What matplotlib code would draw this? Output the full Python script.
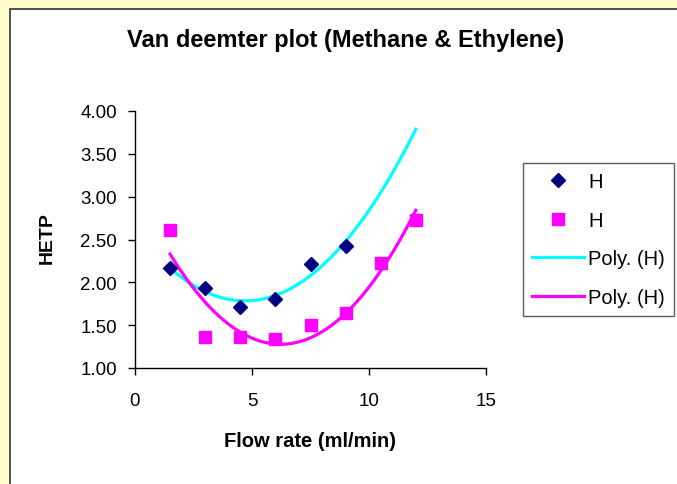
import numpy as np
import matplotlib
matplotlib.use("Agg")
import matplotlib.pyplot as plt
from matplotlib.patches import Rectangle

plt.rcParams['font.family'] = ['Liberation Sans', 'DejaVu Sans']

# data
flow_methane = [1.5, 3.0, 4.5, 6.0, 7.5, 9.0]
hetp_methane = [2.17, 1.93, 1.71, 1.81, 2.21, 2.42]
flow_ethylene = [1.5, 3.0, 4.5, 6.0, 7.5, 9.0, 10.5, 12.0]
hetp_ethylene = [2.61, 1.36, 1.36, 1.34, 1.50, 1.64, 2.22, 2.73]
x_ticks = [0, 5, 10, 15]
y_ticks = [1.0, 1.5, 2.0, 2.5, 3.0, 3.5, 4.0]
trend_end = 12.0
poly_order = 2

W, H = 677, 485
fig = plt.figure(figsize=(W / 100, H / 100), dpi=100)
fig.patch.set_facecolor('#FFFFCC')
# white chart area with dark border, running off the right and bottom edges
fig.patches.append(Rectangle((9.5 / W, -0.1), 1.2, 1.1 - 9.5 / H,
                             transform=fig.transFigure, facecolor='white',
                             edgecolor='#333333', linewidth=1.2, zorder=-1))

ax = fig.add_axes([135 / W, 1 - 369 / H, 351 / W, 257 / H])
ax.set_facecolor('none')

# polynomial trendlines (Excel "Poly.")
xs = np.linspace(flow_methane[0], trend_end, 200)
c1 = np.polyfit(flow_methane, hetp_methane, poly_order)
ax.plot(xs, np.polyval(c1, xs), color='#00FFFF', lw=2.3, label='Poly. (H)', zorder=2)
xs2 = np.linspace(flow_ethylene[0], trend_end, 200)
c2 = np.polyfit(flow_ethylene, hetp_ethylene, poly_order)
ax.plot(xs2, np.polyval(c2, xs2), color='#FF00FF', lw=2.3, label='Poly. (H)', zorder=2)

ax.plot(flow_methane, hetp_methane, 'D', color='#000080', ms=7.5, label='H', zorder=3)
ax.plot(flow_ethylene, hetp_ethylene, 's', color='#FF00FF', ms=8.5, label='H', zorder=3)

ax.set_xlim(0, 15)
ax.set_ylim(1, 4)
ax.set_xticks(x_ticks)
ax.set_yticks(y_ticks)
ax.set_yticklabels(['%.2f' % v for v in y_ticks])
ax.tick_params(direction='out', length=5, width=1, labelsize=13.5)
ax.tick_params(axis='x', pad=12)
ax.tick_params(axis='y', pad=8)
for s in ['top', 'right']:
    ax.spines[s].set_visible(False)
for s in ['left', 'bottom']:
    ax.spines[s].set_linewidth(1)

fig.text(310 / W, 1 - 442 / H, 'Flow rate (ml/min)', ha='center', va='center',
         fontsize=14.5, fontweight='bold')
fig.text(47 / W, 1 - 238 / H, 'HETP', ha='center', va='center', rotation=90,
         fontsize=14, fontweight='bold')
fig.text(346 / W, 1 - 40 / H, 'Van deemter plot (Methane & Ethylene)',
         ha='center', va='center', fontsize=17, fontweight='bold')

h, l = ax.get_legend_handles_labels()
order = [2, 3, 0, 1]
leg = fig.legend([h[i] for i in order], [l[i] for i in order],
                 loc='upper left', bbox_to_anchor=(523 / W, 1 - 164 / H),
                 fontsize=14.5, frameon=True, fancybox=False, edgecolor='#333333',
                 handlelength=2.6, handletextpad=0.2, labelspacing=0.97,
                 borderpad=0.45, borderaxespad=0)
leg.get_frame().set_linewidth(1)

fig.savefig('out.png', dpi=100, facecolor=fig.get_facecolor())
